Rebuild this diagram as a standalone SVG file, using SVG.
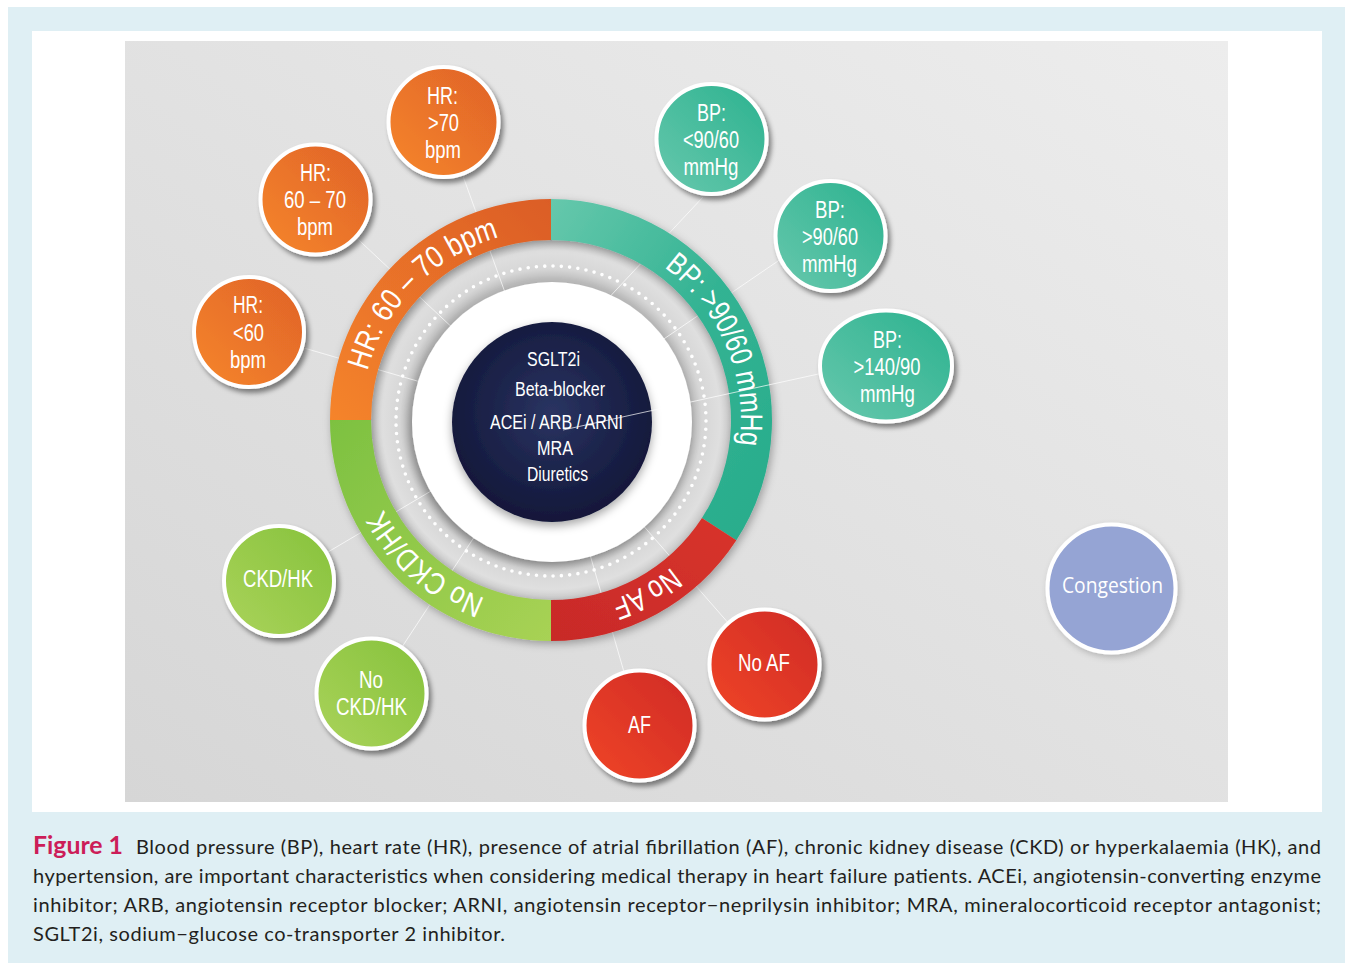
<svg xmlns="http://www.w3.org/2000/svg" xmlns:xlink="http://www.w3.org/1999/xlink" width="1345" height="965" viewBox="0 0 1345 965">
<defs>
<style>
.lbl{font-family:'Liberation Sans Narrow','Liberation Sans',Arial,sans-serif;fill:#ffffff;text-anchor:middle;}
.sat{font-size:23px;}
.hub{font-size:20px;}
.ringtxt{font-family:'Liberation Sans Narrow','Liberation Sans',Arial,sans-serif;font-size:31px;fill:#ffffff;}
.con{stroke:#ffffff;stroke-opacity:0.7;stroke-width:1;fill:none;}
.bd{stroke:#ffffff;stroke-width:4;}
.cap{font-family:Lato,'Open Sans',sans-serif;font-size:20px;fill:#231f20;}
</style>
<linearGradient id="bg" x1="1" y1="0" x2="0" y2="1">
<stop offset="0" stop-color="#ededed"/>
<stop offset="1" stop-color="#d6d6d6"/>
</linearGradient>
<radialGradient id="band" cx="0.5" cy="0.5" r="0.5">
<stop offset="0" stop-color="#bdbdbd"/>
<stop offset="0.778" stop-color="#bdbdbd"/>
<stop offset="0.83" stop-color="#d6d6d6"/>
<stop offset="0.93" stop-color="#dfdfdf"/>
<stop offset="1" stop-color="#c6c6c6"/>
</radialGradient>
<radialGradient id="navy" cx="0.5" cy="0.45" r="0.55">
<stop offset="0" stop-color="#2a3462"/>
<stop offset="1" stop-color="#121739"/>
</radialGradient>
<linearGradient id="gOr" x1="0" y1="1" x2="1" y2="0">
<stop offset="0" stop-color="#f5842a"/>
<stop offset="1" stop-color="#db5d27"/>
</linearGradient>
<linearGradient id="gTe" x1="0" y1="0" x2="1" y2="1">
<stop offset="0" stop-color="#66c8ac"/>
<stop offset="0.5" stop-color="#33b393"/>
<stop offset="1" stop-color="#28ac8b"/>
</linearGradient>
<linearGradient id="gRe" x1="0" y1="1" x2="1" y2="0">
<stop offset="0" stop-color="#c82a28"/>
<stop offset="1" stop-color="#d8332b"/>
</linearGradient>
<linearGradient id="gGr" x1="0" y1="0" x2="1" y2="1">
<stop offset="0" stop-color="#7dc141"/>
<stop offset="1" stop-color="#a8d254"/>
</linearGradient>
<linearGradient id="sOr" x1="0" y1="1" x2="1" y2="0">
<stop offset="0" stop-color="#f6862a"/>
<stop offset="1" stop-color="#df6228"/>
</linearGradient>
<linearGradient id="sTe" x1="0" y1="1" x2="1" y2="0">
<stop offset="0" stop-color="#68c8ad"/>
<stop offset="1" stop-color="#2bb28f"/>
</linearGradient>
<linearGradient id="sGr" x1="0" y1="1" x2="1" y2="0">
<stop offset="0" stop-color="#aad35a"/>
<stop offset="1" stop-color="#86c23c"/>
</linearGradient>
<linearGradient id="sRe" x1="0" y1="1" x2="1" y2="0">
<stop offset="0" stop-color="#f04525"/>
<stop offset="1" stop-color="#cf2a27"/>
</linearGradient>
<filter id="sh" x="-30%" y="-30%" width="160%" height="160%">
<feDropShadow dx="3" dy="4" stdDeviation="2.5" flood-color="#000000" flood-opacity="0.45"/>
</filter>
<filter id="shSoft" x="-30%" y="-30%" width="160%" height="160%">
<feDropShadow dx="2" dy="3" stdDeviation="3" flood-color="#000000" flood-opacity="0.2"/>
</filter>
<filter id="shRing" x="-20%" y="-20%" width="140%" height="140%">
<feDropShadow dx="2" dy="3" stdDeviation="4" flood-color="#000000" flood-opacity="0.3"/>
</filter>
<filter id="shWhite" x="-20%" y="-20%" width="140%" height="140%">
<feDropShadow dx="-2" dy="4" stdDeviation="5" flood-color="#000000" flood-opacity="0.3"/>
</filter>
<filter id="shNavy" x="-20%" y="-20%" width="140%" height="140%">
<feDropShadow dx="0" dy="4" stdDeviation="5" flood-color="#000000" flood-opacity="0.35"/>
</filter>
<path id="tp" d="M 361 420 A 190 190 0 1 1 741 420 A 190 190 0 1 1 361 420"/>
</defs>

<rect x="8" y="7" width="1337" height="956" fill="#dfeff4"/>
<rect x="32" y="31" width="1290" height="781" fill="#ffffff"/>
<rect x="125" y="41" width="1103" height="761" fill="url(#bg)"/>

<g id="hub-band">
<circle cx="551" cy="420" r="182" fill="url(#band)"/>
<circle cx="551" cy="421" r="155" fill="none" stroke="#ffffff" stroke-width="3.6" stroke-linecap="round" stroke-dasharray="0 8.32"/>
</g>

<g id="connectors">
<line class="con" x1="249" y1="332" x2="551" y2="420"/>
<line class="con" x1="315.5" y1="199.5" x2="551" y2="420"/>
<line class="con" x1="443.5" y1="122" x2="551" y2="420"/>
<line class="con" x1="703" y1="197" x2="560" y2="350"/>
<line class="con" x1="800" y1="246" x2="551" y2="416"/>
<line class="con" x1="279" y1="581" x2="551" y2="420"/>
<line class="con" x1="371.5" y1="693.5" x2="551" y2="420"/>
<line class="con" x1="639.5" y1="725.5" x2="551" y2="420"/>
<line class="con" x1="764.5" y1="664.5" x2="551" y2="420"/>
</g>

<g id="ring">
<g filter="url(#shRing)">
<path d="M 330 420 A 221 221 0 0 1 551 199 L 551 240 A 180 180 0 0 0 371 420 Z" fill="url(#gOr)"/>
<path d="M 551 199 A 221 221 0 0 1 736.35 540.36 L 701.97 518.03 A 180 180 0 0 0 551 240 Z" fill="url(#gTe)"/>
<path d="M 736.35 540.36 A 221 221 0 0 1 551 641 L 551 600 A 180 180 0 0 0 701.97 518.03 Z" fill="url(#gRe)"/>
<path d="M 551 641 A 221 221 0 0 1 330 420 L 371 420 A 180 180 0 0 0 551 600 Z" fill="url(#gGr)"/>
</g>
<text class="ringtxt" text-anchor="middle"><textPath href="#tp" xlink:href="#tp" startOffset="147.6" textLength="196" lengthAdjust="spacingAndGlyphs">HR: 60 – 70 bpm</textPath></text>
<text class="ringtxt" text-anchor="middle"><textPath href="#tp" xlink:href="#tp" startOffset="520.6" textLength="202" lengthAdjust="spacingAndGlyphs">BP: &gt;90/60 mmHg</textPath></text>
<text class="ringtxt" text-anchor="middle"><textPath href="#tp" xlink:href="#tp" startOffset="799.2" textLength="69" lengthAdjust="spacingAndGlyphs">No AF</textPath></text>
<text class="ringtxt" text-anchor="middle"><textPath href="#tp" xlink:href="#tp" startOffset="1031.3" textLength="138" lengthAdjust="spacingAndGlyphs">No CKD/HK</textPath></text>
</g>

<g id="hub-center">
<circle cx="552" cy="422" r="140" fill="#ffffff" filter="url(#shWhite)"/>
<circle cx="552" cy="422" r="100" fill="url(#navy)" filter="url(#shNavy)"/>
</g>

<g id="connectors-top">
<line class="con" x1="821.7" y1="373.3" x2="563" y2="430" stroke-opacity="0.55"/>
</g>

<g id="hub-labels">
<text class="lbl hub" x="553.5" y="366" textLength="53" lengthAdjust="spacingAndGlyphs">SGLT2i</text>
<text class="lbl hub" x="560" y="396" textLength="90" lengthAdjust="spacingAndGlyphs">Beta-blocker</text>
<text class="lbl hub" x="556.5" y="429" textLength="133" lengthAdjust="spacingAndGlyphs">ACEi / ARB / ARNI</text>
<text class="lbl hub" x="555" y="455" textLength="36" lengthAdjust="spacingAndGlyphs">MRA</text>
<text class="lbl hub" x="557.5" y="481" textLength="61" lengthAdjust="spacingAndGlyphs">Diuretics</text>
</g>

<g id="hr-lt60">
<circle cx="249" cy="332" r="55" fill="url(#sOr)" class="bd" filter="url(#sh)"/>
<text class="lbl sat" x="248" y="313" textLength="30" lengthAdjust="spacingAndGlyphs">HR:</text>
<text class="lbl sat" x="248.5" y="341" textLength="31" lengthAdjust="spacingAndGlyphs">&lt;60</text>
<text class="lbl sat" x="248" y="368" textLength="36" lengthAdjust="spacingAndGlyphs">bpm</text>
</g>
<g id="hr-60-70">
<circle cx="315.5" cy="199.5" r="55" fill="url(#sOr)" class="bd" filter="url(#sh)"/>
<text class="lbl sat" x="315.5" y="181" textLength="31" lengthAdjust="spacingAndGlyphs">HR:</text>
<text class="lbl sat" x="315" y="208" textLength="62" lengthAdjust="spacingAndGlyphs">60 – 70</text>
<text class="lbl sat" x="315" y="235" textLength="36" lengthAdjust="spacingAndGlyphs">bpm</text>
</g>
<g id="hr-gt70">
<circle cx="443.5" cy="122" r="55" fill="url(#sOr)" class="bd" filter="url(#sh)"/>
<text class="lbl sat" x="442.5" y="104" textLength="31" lengthAdjust="spacingAndGlyphs">HR:</text>
<text class="lbl sat" x="443.5" y="131" textLength="31" lengthAdjust="spacingAndGlyphs">&gt;70</text>
<text class="lbl sat" x="443" y="158" textLength="36" lengthAdjust="spacingAndGlyphs">bpm</text>
</g>
<g id="bp-lt90">
<circle cx="711.5" cy="139" r="55" fill="url(#sTe)" class="bd" filter="url(#sh)"/>
<text class="lbl sat" x="711.5" y="121" textLength="29" lengthAdjust="spacingAndGlyphs">BP:</text>
<text class="lbl sat" x="711" y="148" textLength="56" lengthAdjust="spacingAndGlyphs">&lt;90/60</text>
<text class="lbl sat" x="711" y="175" textLength="55" lengthAdjust="spacingAndGlyphs">mmHg</text>
</g>
<g id="bp-gt90">
<circle cx="830.5" cy="236" r="55" fill="url(#sTe)" class="bd" filter="url(#sh)"/>
<text class="lbl sat" x="830" y="218" textLength="30" lengthAdjust="spacingAndGlyphs">BP:</text>
<text class="lbl sat" x="830" y="245" textLength="56" lengthAdjust="spacingAndGlyphs">&gt;90/60</text>
<text class="lbl sat" x="829.5" y="272" textLength="55" lengthAdjust="spacingAndGlyphs">mmHg</text>
</g>
<g id="bp-gt140">
<ellipse cx="886" cy="366" rx="66" ry="55.5" fill="url(#sTe)" class="bd" filter="url(#sh)"/>
<text class="lbl sat" x="887.5" y="348" textLength="29" lengthAdjust="spacingAndGlyphs">BP:</text>
<text class="lbl sat" x="887" y="375" textLength="67" lengthAdjust="spacingAndGlyphs">&gt;140/90</text>
<text class="lbl sat" x="887.5" y="402" textLength="55" lengthAdjust="spacingAndGlyphs">mmHg</text>
</g>
<g id="ckd-hk">
<circle cx="279" cy="581" r="55" fill="url(#sGr)" class="bd" filter="url(#sh)"/>
<text class="lbl sat" x="278" y="587" textLength="70" lengthAdjust="spacingAndGlyphs">CKD/HK</text>
</g>
<g id="no-ckd-hk">
<circle cx="371.5" cy="693.5" r="55" fill="url(#sGr)" class="bd" filter="url(#sh)"/>
<text class="lbl sat" x="371" y="688" textLength="24" lengthAdjust="spacingAndGlyphs">No</text>
<text class="lbl sat" x="371.5" y="715" textLength="71" lengthAdjust="spacingAndGlyphs">CKD/HK</text>
</g>
<g id="af">
<circle cx="639.5" cy="725.5" r="55" fill="url(#sRe)" class="bd" filter="url(#sh)"/>
<text class="lbl sat" x="639.5" y="733" textLength="23" lengthAdjust="spacingAndGlyphs">AF</text>
</g>
<g id="no-af">
<circle cx="764.5" cy="664.5" r="55" fill="url(#sRe)" class="bd" filter="url(#sh)"/>
<text class="lbl sat" x="764" y="671" textLength="52" lengthAdjust="spacingAndGlyphs">No AF</text>
</g>
<g id="congestion">
<circle cx="1111.5" cy="588.5" r="64" fill="#95a4d4" class="bd" filter="url(#shSoft)"/>
<text x="1112.5" y="593" font-family="'Open Sans',Lato,sans-serif" font-size="21" fill="#ffffff" text-anchor="middle" textLength="101" lengthAdjust="spacingAndGlyphs">Congestion</text>
</g>

<g id="caption">
<text x="33" y="854" font-family="Lato,'Open Sans',sans-serif" font-size="24" font-weight="bold" fill="#cc1d58" textLength="90" lengthAdjust="spacingAndGlyphs">Figure 1</text>
<text class="cap" x="136" y="854" textLength="1185" lengthAdjust="spacing">Blood pressure (BP), heart rate (HR), presence of atrial fibrillation (AF), chronic kidney disease (CKD) or hyperkalaemia (HK), and</text>
<text class="cap" x="33" y="883" textLength="1288" lengthAdjust="spacing">hypertension, are important characteristics when considering medical therapy in heart failure patients. ACEi, angiotensin-converting enzyme</text>
<text class="cap" x="33" y="912" textLength="1288" lengthAdjust="spacing">inhibitor; ARB, angiotensin receptor blocker; ARNI, angiotensin receptor−neprilysin inhibitor; MRA, mineralocorticoid receptor antagonist;</text>
<text class="cap" x="33" y="941" textLength="472" lengthAdjust="spacing">SGLT2i, sodium−glucose co-transporter 2 inhibitor.</text>
</g>
</svg>
